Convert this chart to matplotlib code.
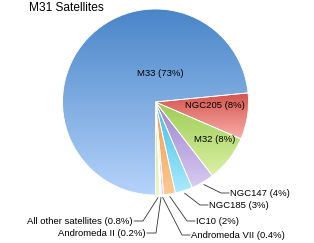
import numpy as np
import matplotlib
matplotlib.use("Agg")
import matplotlib.pyplot as plt
from matplotlib.colors import LinearSegmentedColormap

plt.rcParams['font.family'] = ['Liberation Sans', 'DejaVu Sans']

# data, counterclockwise from 6 o'clock
names = ["All other satellites", "Andromeda II", "Andromeda VII", "IC10",
         "NGC185", "NGC147", "M32", "NGC205", "M33"]
shares = [0.8, 0.2, 0.4, 2, 3, 4, 8, 8, 73]

# gradient colours (top, bottom)
colors_top = ["#d6e68c", "#9c9c9c", "#bba9de", "#f59844", "#3ebde6",
              "#9a82ca", "#9ccd55", "#d4534d", "#4985c8"]
colors_bot = ["#eef6c2", "#cccccc", "#dcd0f4", "#fdc994", "#aaebfc",
              "#d8caf2", "#dcf0a4", "#f8b0a8", "#b5d3fb"]

W, H = 314, 243
cx, cy, R = 155.5, 141, 93

fig = plt.figure(figsize=(W / 100, H / 100), dpi=100)
ax = fig.add_axes([0, 0, 1, 1])

wedges, _ = ax.pie(shares, startangle=-90, counterclock=True, radius=R,
                   center=(cx, cy), colors=["none"] * len(shares),
                   wedgeprops=dict(edgecolor="white", linewidth=0.6))
ax.set_xlim(0, W)
ax.set_ylim(0, H)
ax.set_aspect("equal")
ax.axis("off")

# vertical gradient fill per wedge
grad = np.linspace(0, 1, 256).reshape(-1, 1)
for w, ct, cb in zip(wedges, colors_top, colors_bot):
    ext = w.get_path().get_extents()
    cmap = LinearSegmentedColormap.from_list("g", [cb, ct])
    im = ax.imshow(grad, cmap=cmap, extent=(ext.x0, ext.x1, ext.y0, ext.y1),
                   origin="lower", aspect="auto", zorder=1)
    im.set_clip_path(w)
    w.set_zorder(2)
ax.set_xlim(0, W)
ax.set_ylim(0, H)

def label(i):
    return f"{names[i]} ({shares[i]:g}%)"

fs = 6.8
# labels inside the pie
inside = {8: (160, 169), 7: (215, 137), 6: (215, 103.5)}
for i, (x, y) in inside.items():
    ax.text(x, y, label(i), fontsize=fs, ha="center", va="center", zorder=3)

# labels outside with elbow leader lines: (elbow x, text y, side)
outside = {5: (221, 50, "r"), 4: (200, 38, "r"), 3: (187, 22, "r"),
           2: (182, 8, "r"), 0: (143, 22, "l"), 1: (156, 10, "l")}
for i, (ex, ty, side) in outside.items():
    w = wedges[i]
    a = np.deg2rad((w.theta1 + w.theta2) / 2)
    sx, sy = cx + 1.03 * R * np.cos(a), cy + 1.03 * R * np.sin(a)
    if side == "r":
        tx = ex + 9
        ax.plot([sx, ex, tx - 1], [sy, ty, ty], color="#333333", lw=0.6)
        ax.text(tx, ty, label(i), fontsize=fs, ha="left", va="center")
    else:
        tx = ex - 10
        ax.plot([sx, ex, tx + 1], [sy, ty, ty], color="#333333", lw=0.6)
        ax.text(tx, ty, label(i), fontsize=fs, ha="right", va="center")

ax.text(29, 231.5, "M31 Satellites", fontsize=8.6, ha="left", va="baseline")

fig.savefig("out.png", dpi=100)
